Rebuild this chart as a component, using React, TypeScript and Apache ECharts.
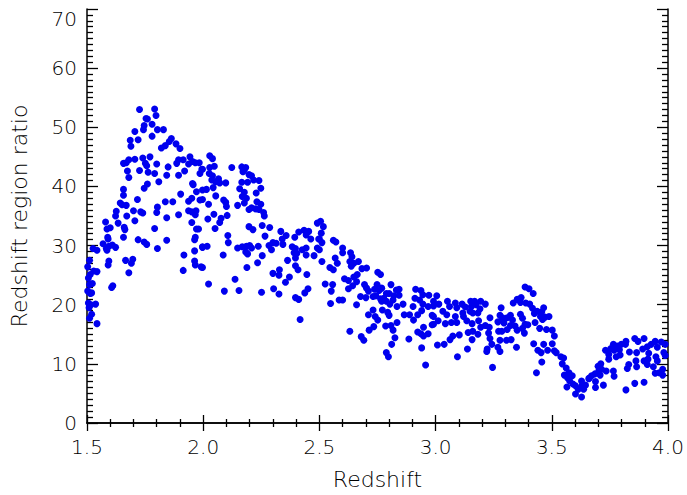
import React, { useEffect, useRef } from "react";
import * as echarts from "echarts";

// Redshift range 1.5 - 2.0
const seg15: number[][] = [
  [1.726, 53.0], [1.791, 53.1], [1.754, 51.5], [1.760, 51.4], [1.746, 50.3], [1.797, 52.0], [1.780, 50.5],
  [1.743, 49.6], [1.803, 49.6], [1.829, 49.6], [1.706, 49.3], [1.780, 48.5], [1.720, 47.9], [1.686, 47.8],
  [1.689, 46.8], [1.863, 48.1], [1.854, 47.6], [1.837, 46.9], [1.820, 46.5], [1.883, 47.2], [1.900, 46.4],
  [1.657, 43.9], [1.669, 44.0], [1.680, 44.5], [1.706, 44.6], [1.740, 44.8], [1.771, 45.0], [1.751, 43.9],
  [1.757, 43.5], [1.800, 43.8], [1.849, 43.3], [1.886, 43.9], [1.894, 44.5], [1.914, 44.5], [1.943, 45.0],
  [1.954, 44.2], [1.937, 43.8], [1.966, 44.0], [1.983, 44.0], [1.994, 42.9], [1.986, 42.2], [1.674, 42.6],
  [1.680, 41.5], [1.726, 42.7], [1.763, 42.4], [1.791, 42.2], [1.809, 40.8], [1.843, 41.9], [1.894, 41.9],
  [1.920, 42.6], [1.760, 40.4], [1.746, 39.7], [1.657, 39.5], [1.657, 38.5], [1.717, 37.8], [1.903, 38.7],
  [1.954, 40.5], [1.957, 40.3], [1.971, 39.1], [1.997, 39.4], [1.986, 37.7], [1.951, 38.0], [1.937, 37.5],
  [1.643, 37.2], [1.651, 36.9], [1.669, 36.8], [1.803, 36.5], [1.837, 37.4], [1.869, 37.4], [1.800, 35.6],
  [1.731, 35.7], [1.740, 35.5], [1.700, 35.9], [1.626, 35.8], [1.623, 35.0], [1.671, 35.0], [1.706, 34.2],
  [1.843, 34.7], [1.894, 35.2], [1.937, 35.9], [1.951, 35.7], [1.969, 35.9], [1.966, 35.2], [1.951, 33.9],
  [1.580, 34.0], [1.600, 33.0], [1.586, 32.8], [1.634, 33.8], [1.660, 33.1], [1.663, 32.7], [1.657, 31.4],
  [1.589, 31.4], [1.591, 31.1], [1.791, 32.9], [1.720, 31.0], [1.746, 30.6], [1.757, 30.2], [1.803, 29.5],
  [1.843, 30.9], [1.966, 31.4], [1.971, 32.8], [1.980, 32.8], [1.963, 31.0], [1.997, 29.7], [1.963, 29.1],
  [1.569, 30.3], [1.583, 29.5], [1.594, 29.9], [1.609, 30.1], [1.623, 29.7], [1.586, 29.2], [1.526, 29.5],
  [1.543, 29.2], [1.594, 27.4], [1.591, 26.7], [1.666, 27.5], [1.697, 27.7], [1.691, 27.0], [1.680, 25.4],
  [1.917, 28.4], [1.914, 25.8], [1.963, 27.4], [1.966, 26.7], [1.991, 26.4], [1.511, 27.5], [1.503, 26.4],
  [1.514, 25.1], [1.529, 25.7], [1.543, 25.6], [1.506, 24.5], [1.511, 23.4], [1.523, 23.6], [1.503, 22.3],
  [1.514, 21.9], [1.520, 22.0], [1.611, 23.2], [1.606, 22.9], [1.506, 20.3], [1.517, 20.0], [1.537, 20.1],
  [1.509, 19.5], [1.520, 18.4], [1.511, 17.7], [1.543, 16.8]
];

// Redshift range 2.0 - 2.5
const seg20: number[][] = [
  [2.028, 45.2], [2.040, 44.7], [1.997, 42.9], [2.028, 43.2], [2.048, 43.4], [2.026, 42.2], [2.040, 41.8],
  [2.037, 41.1], [2.054, 40.8], [2.066, 41.3], [2.071, 40.6], [2.097, 40.6], [2.014, 39.5], [2.043, 39.8],
  [2.054, 38.4], [1.997, 37.8], [2.023, 37.0], [2.088, 37.7], [2.097, 37.3], [2.100, 36.6], [2.077, 34.6],
  [2.071, 33.9], [2.046, 35.3], [2.020, 34.5], [2.051, 32.9], [2.103, 35.1], [2.123, 43.2], [2.166, 43.3],
  [2.177, 42.8], [2.183, 43.2], [2.171, 42.5], [2.197, 42.0], [2.208, 41.8], [2.217, 41.1], [2.240, 41.0],
  [2.166, 40.7], [2.191, 40.7], [2.157, 39.6], [2.177, 39.0], [2.168, 38.3], [2.186, 38.0], [2.177, 37.2],
  [2.228, 38.9], [2.248, 39.7], [2.231, 37.4], [2.248, 37.0], [2.148, 36.8], [2.197, 36.1], [2.208, 36.4],
  [2.226, 36.2], [2.240, 36.1], [2.260, 35.6], [2.263, 35.0], [2.197, 33.2], [2.214, 32.7], [2.254, 33.4],
  [2.286, 33.05], [2.106, 31.7], [2.108, 30.5], [1.997, 29.8], [2.017, 29.9], [2.148, 29.6], [2.168, 29.8],
  [2.186, 29.9], [2.200, 30.0], [2.208, 29.6], [2.183, 28.9], [2.191, 28.6], [2.237, 29.9], [2.086, 28.4],
  [1.997, 26.3], [2.188, 26.3], [2.234, 27.1], [2.254, 28.3], [2.266, 31.6], [2.294, 29.3], [2.283, 30.0],
  [2.300, 30.5], [2.314, 30.4], [2.343, 30.2], [2.334, 32.4], [2.340, 31.1], [2.357, 31.7], [2.394, 31.4],
  [2.411, 32.3], [2.434, 32.6], [2.443, 31.8], [2.454, 32.4], [2.463, 31.1], [2.491, 33.8], [2.497, 31.1],
  [2.383, 29.8], [2.397, 29.5], [2.391, 28.8], [2.403, 28.7], [2.426, 29.3], [2.443, 29.6], [2.443, 28.4],
  [2.477, 28.3], [2.491, 29.6], [2.363, 27.5], [2.397, 27.9], [2.397, 26.6], [2.408, 25.9], [2.328, 25.9],
  [2.326, 25.0], [2.300, 25.3], [2.371, 24.7], [2.354, 23.8], [2.446, 25.1], [2.023, 23.5], [2.091, 22.3],
  [2.154, 22.4], [2.137, 24.3], [2.251, 22.1], [2.303, 22.7], [2.326, 21.8], [2.451, 22.7], [2.437, 22.0],
  [2.397, 21.2], [2.411, 20.9], [2.417, 17.5]
];

// Redshift range 2.5 - 3.0
const seg25: number[][] = [
  [2.505, 34.1], [2.517, 33.2], [2.508, 32.1], [2.500, 31.1], [2.511, 30.5], [2.500, 29.3], [2.511, 27.3],
  [2.560, 30.9], [2.571, 30.6], [2.600, 29.6], [2.600, 28.8], [2.568, 27.9], [2.577, 27.0], [2.634, 28.8],
  [2.640, 28.1], [2.631, 27.3], [2.648, 27.0], [2.668, 27.3], [2.637, 26.5], [2.545, 26.3], [2.560, 25.9],
  [2.683, 26.1], [2.703, 26.2], [2.663, 25.1], [2.751, 25.5], [2.763, 25.1], [2.525, 23.5], [2.557, 23.4],
  [2.551, 22.3], [2.608, 24.4], [2.625, 24.1], [2.648, 24.7], [2.660, 23.9], [2.643, 23.2], [2.625, 22.7],
  [2.694, 23.4], [2.703, 22.8], [2.711, 22.3], [2.748, 23.4], [2.737, 22.6], [2.757, 22.4], [2.768, 22.8],
  [2.808, 23.4], [2.800, 21.9], [2.831, 22.5], [2.843, 22.6], [2.677, 21.4], [2.700, 21.2], [2.731, 21.4],
  [2.743, 21.5], [2.763, 21.0], [2.777, 21.1], [2.788, 21.9], [2.820, 21.5], [2.817, 20.8], [2.843, 21.6],
  [2.860, 20.1], [2.834, 19.7], [2.803, 20.1], [2.788, 20.6], [2.768, 20.6], [2.585, 20.8], [2.600, 20.8],
  [2.548, 20.2], [2.660, 20.0], [2.711, 18.3], [2.731, 19.1], [2.740, 18.0], [2.751, 17.4], [2.771, 19.1],
  [2.794, 18.7], [2.800, 18.2], [2.865, 18.3], [2.888, 18.3], [2.905, 17.4], [2.914, 22.6], [2.937, 22.4],
  [2.945, 21.7], [2.911, 21.1], [2.931, 20.8], [2.945, 20.1], [2.968, 19.7], [2.971, 21.6], [2.903, 19.7],
  [2.940, 19.0], [2.923, 18.3], [2.991, 19.8], [2.985, 18.2], [2.785, 16.4], [2.808, 16.5], [2.834, 17.0],
  [2.817, 15.7], [2.825, 14.4], [2.811, 13.3], [2.788, 11.9], [2.797, 11.2], [2.885, 14.2], [2.923, 15.4],
  [2.937, 15.1], [2.948, 14.7], [2.968, 15.1], [2.948, 16.2], [2.985, 16.6], [2.940, 12.7], [2.631, 15.5],
  [2.680, 14.6], [2.691, 14.0], [2.714, 15.7], [2.734, 16.3], [2.957, 9.8]
];

// Redshift range 3.0 - 3.5
const seg30: number[][] = [
  [3.005, 21.5], [2.991, 20.6], [3.014, 20.1], [3.051, 20.6], [3.060, 19.7], [3.085, 20.3], [3.091, 19.5],
  [3.031, 18.9], [3.048, 18.3], [2.991, 18.0], [3.011, 17.3], [2.991, 16.7], [3.042, 16.8], [3.068, 17.0],
  [3.091, 17.0], [3.085, 18.0], [3.114, 20.1], [3.128, 19.6], [3.117, 18.6], [3.120, 18.0], [3.151, 20.6],
  [3.168, 20.6], [3.154, 19.7], [3.174, 20.0], [3.148, 18.9], [3.160, 18.6], [3.182, 18.6], [3.194, 20.6],
  [3.214, 20.1], [3.191, 19.3], [3.134, 17.3], [3.157, 16.8], [3.185, 17.3], [3.194, 16.2], [3.214, 16.5],
  [3.231, 16.2], [3.234, 17.8], [3.160, 15.5], [3.140, 15.3], [3.157, 14.1], [3.182, 15.0], [3.228, 15.2],
  [3.234, 14.3], [3.222, 12.5], [3.220, 12.1], [3.242, 13.3], [3.282, 19.5], [3.277, 18.2], [3.268, 17.1],
  [3.288, 17.8], [3.294, 16.9], [3.308, 17.8], [3.322, 18.2], [3.331, 17.4], [3.322, 16.5], [3.308, 15.8],
  [3.285, 15.5], [3.271, 15.5], [3.277, 14.0], [3.268, 12.8], [3.277, 12.1], [3.305, 14.0], [3.325, 14.1],
  [3.351, 15.7], [3.348, 12.8], [3.342, 16.4], [3.334, 20.3], [3.351, 20.9], [3.368, 21.2], [3.365, 20.4],
  [3.385, 23.0], [3.402, 22.7], [3.420, 21.9], [3.388, 20.3], [3.405, 20.1], [3.417, 19.4], [3.425, 18.5],
  [3.437, 18.9], [3.457, 18.8], [3.465, 19.5], [3.451, 18.0], [3.460, 17.5], [3.471, 17.9], [3.365, 18.4],
  [3.374, 17.7], [3.385, 16.7], [3.374, 16.0], [3.382, 15.2], [3.397, 16.6], [3.428, 17.0], [3.448, 16.0],
  [3.477, 15.8], [3.422, 13.4], [3.440, 12.3], [3.454, 11.9], [3.465, 13.3], [3.482, 12.3], [3.008, 13.2],
  [3.037, 13.3], [3.062, 14.1], [3.074, 14.7], [3.102, 14.9], [3.137, 12.5], [3.094, 11.2], [3.245, 9.4],
  [3.457, 10.3], [3.434, 8.5], [3.488, 18.0]
];

// Redshift range 3.5 - 4.0
const seg35: number[][] = [
  [3.502, 15.7], [3.511, 14.7], [3.502, 13.4], [3.511, 12.2], [3.519, 11.9], [3.539, 11.2], [3.551, 11.0],
  [3.545, 10.0], [3.562, 9.3], [3.554, 8.1], [3.574, 8.5], [3.568, 7.6], [3.588, 8.0], [3.577, 7.1],
  [3.591, 6.6], [3.565, 6.1], [3.602, 6.3], [3.628, 7.1], [3.631, 6.4], [3.645, 6.4], [3.614, 5.7],
  [3.637, 5.7], [3.602, 4.9], [3.628, 4.4], [3.659, 7.5], [3.671, 8.0], [3.685, 8.3], [3.699, 9.6],
  [3.702, 8.8], [3.714, 9.1], [3.708, 8.1], [3.688, 7.0], [3.688, 6.0], [3.722, 6.4], [3.731, 12.3],
  [3.754, 12.6], [3.745, 11.6], [3.768, 12.3], [3.765, 13.3], [3.782, 13.0], [3.791, 12.4], [3.777, 11.2],
  [3.794, 11.5], [3.799, 13.3], [3.819, 13.8], [3.817, 13.3], [3.834, 12.0], [3.765, 8.8], [3.768, 7.9],
  [3.831, 9.9], [3.825, 9.2], [3.862, 10.5], [3.865, 9.5], [3.857, 14.3], [3.871, 13.8], [3.897, 14.3],
  [3.911, 12.9], [3.891, 12.5], [3.917, 11.8], [3.928, 13.3], [3.945, 13.8], [3.954, 12.8], [3.971, 13.7],
  [3.988, 13.3], [3.982, 11.9], [3.948, 11.2], [3.914, 10.8], [3.897, 10.5], [3.911, 9.9], [3.954, 10.5],
  [3.937, 9.5], [3.962, 8.5], [3.977, 9.1], [3.945, 8.4], [3.977, 8.1], [3.857, 6.7], [3.897, 6.9],
  [3.819, 5.6], [3.734, 8.8], [3.711, 10.0], [3.662, 7.6], [3.745, 10.8], [3.865, 11.9], [3.988, 11.4]
];

const X_MIN = 1.5;
const X_MAX = 4.0;
const Y_MIN = 0;
const Y_MAX = 70;
const X_TITLE = "Redshift";
const Y_TITLE = "Redshift region ratio";

const FONT = "DejaVu Sans";
const TEXT_COLOR = "#000";
const DOT_COLOR = "#0000ee";

export default function App() {
  const ref = useRef<HTMLDivElement>(null);
  useEffect(() => {
    if (!ref.current) return;
    const chart = echarts.init(ref.current, undefined, { renderer: "svg" });
    const data = [...seg15, ...seg20, ...seg25, ...seg30, ...seg35];
    const lineStyle = { color: "#000", width: 1.5 };
    const label = { color: TEXT_COLOR, fontFamily: FONT, fontSize: 20, fontWeight: 300 as any };
    const nameStyle = { color: TEXT_COLOR, fontFamily: FONT, fontSize: 22, fontWeight: 300 as any };
    const xCommon = {
      type: "value" as const,
      min: X_MIN,
      max: X_MAX,
      interval: 0.5,
      axisLine: { show: true, lineStyle },
      splitLine: { show: false },
      axisTick: { show: true, inside: true, length: 8, lineStyle: { color: "#000", width: 1.3 } },
      minorTick: { show: true, splitNumber: 5, length: 4, lineStyle: { color: "#000", width: 1.3 } },
    };
    const yCommon = {
      type: "value" as const,
      min: Y_MIN,
      max: Y_MAX,
      interval: 10,
      axisLine: { show: true, lineStyle },
      splitLine: { show: false },
      axisTick: { show: true, inside: true, length: 11, lineStyle: { color: "#000", width: 1.3 } },
      minorTick: { show: true, splitNumber: 10, length: 6, lineStyle: { color: "#000", width: 1.3 } },
    };
    chart.setOption({
      animation: false,
      backgroundColor: "#fff",
      grid: { left: 84, right: 19, top: 9, bottom: 71, containLabel: false },
      xAxis: [
        {
          ...xCommon,
          position: "bottom",
          name: X_TITLE,
          nameLocation: "middle",
          nameGap: 45,
          nameTextStyle: { ...nameStyle },
          axisLabel: {
            ...label,
            margin: 14,
            formatter: (v: number) => v.toFixed(1),
          },
        },
        {
          ...xCommon,
          position: "top",
          axisLabel: { show: false },
        },
      ],
      yAxis: [
        {
          ...yCommon,
          position: "left",
          name: Y_TITLE,
          nameLocation: "middle",
          nameGap: 57,
          nameTextStyle: { ...nameStyle },
          axisLabel: {
            ...label,
            margin: 10,
            formatter: (v: number) => (v === Y_MAX ? "{top|" + v + "}" : String(v)),
            rich: {
              top: { ...label, padding: [20, 0, 0, 0] },
            },
          },
        },
        {
          ...yCommon,
          position: "right",
          axisLabel: { show: false },
        },
      ],
      series: [
        {
          type: "scatter",
          data,
          symbol: "circle",
          symbolSize: 7,
          itemStyle: { color: DOT_COLOR, opacity: 1 },
          xAxisIndex: 0,
          yAxisIndex: 0,
        },
      ],
    });
    return () => chart.dispose();
  }, []);
  return (
    <div
      ref={ref}
      style={{ position: "fixed", left: 0, top: 0, width: 687, height: 495, background: "#fff" }}
    />
  );
}
